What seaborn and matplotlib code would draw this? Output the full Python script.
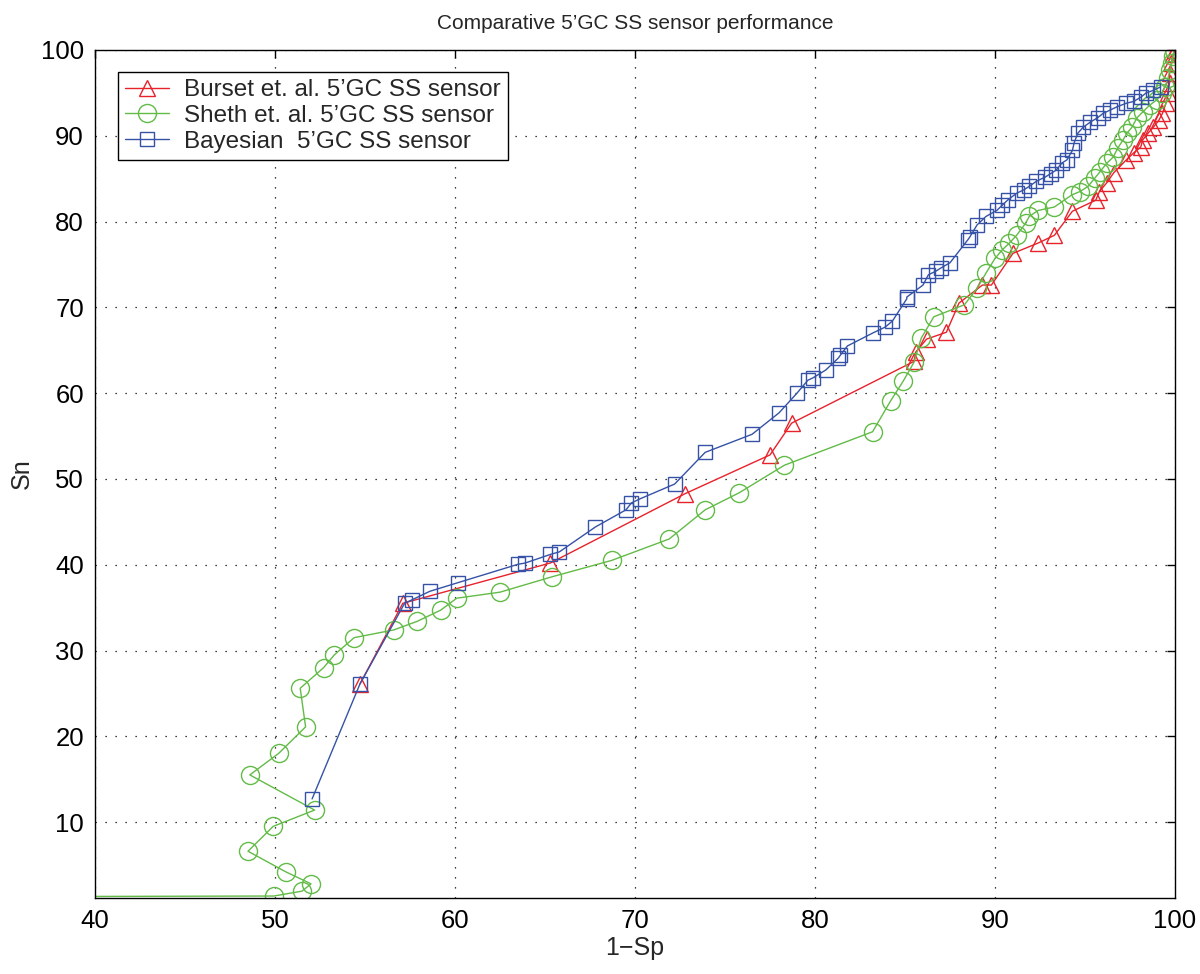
import numpy as np
import pandas as pd
import seaborn as sns
import matplotlib
matplotlib.use("Agg")
import matplotlib.pyplot as plt

# values (1-Sp, Sn)
burset_x = [54.72, 57.1, 65.3, 72.8, 77.5, 78.7, 85.5, 85.6, 86.2, 87.3, 88.0, 89.3, 89.8,
            91.0, 92.4, 93.3, 94.3, 95.6, 95.8, 96.2, 96.6, 97.3, 97.7, 98.1, 98.2, 98.5,
            98.8, 99.1, 99.3, 99.5, 99.6, 99.7, 99.7, 99.8, 99.9, 100.0]
burset_y = [26.1, 35.5, 40.2, 48.3, 52.8, 56.5, 63.7, 64.8, 66.3, 67.1, 70.5, 72.6, 72.6,
            76.3, 77.5, 78.4, 81.2, 82.5, 83.5, 84.5, 85.7, 87.2, 88.0, 88.7, 89.5, 90.3,
            91.0, 91.8, 92.6, 93.8, 95.0, 96.2, 97.3, 98.5, 99.5, 100.0]

sheth_x = [0.0, 49.94, 51.5, 52.0, 50.6, 48.5, 49.9, 52.2, 48.6, 50.2, 51.7, 51.4, 52.7, 53.3,
           54.4, 56.6, 57.9, 59.2, 60.1, 62.5, 65.4, 68.7, 71.9, 73.9, 75.8, 78.3, 83.2,
           84.2, 84.9, 85.5, 85.9, 86.6, 88.3, 89.0, 89.5, 90.0, 90.4, 90.8, 91.2, 91.7,
           91.9, 92.4, 93.3, 94.26, 94.72, 95.17, 95.56, 95.83, 96.21, 96.56, 96.83, 97.11,
           97.33, 97.61, 97.89, 98.22, 98.61, 99.0, 99.28, 99.44, 99.61, 99.72, 99.83,
           99.89, 99.94]
sheth_y = [1.15, 1.38, 1.95, 2.8, 4.2, 6.6, 9.5, 11.4, 15.5, 18.0, 21.1, 25.6, 28.0, 29.5,
           31.5, 32.4, 33.4, 34.7, 36.1, 36.8, 38.6, 40.5, 43.0, 46.4, 48.4, 51.6, 55.5,
           59.1, 61.4, 63.6, 66.4, 68.9, 70.3, 72.2, 74.0, 75.7, 76.7, 77.5, 78.4, 79.8,
           80.6, 81.3, 81.7, 83.1, 83.5, 84.1, 85.1, 85.8, 86.8, 87.5, 88.6, 89.5,
           90.3, 91.0, 92.1, 92.8, 93.6, 94.2, 95.0, 95.7, 96.7, 97.7, 98.5,
           99.3, 100.0]

bayes_x = [52.06, 54.72, 57.2, 57.6, 58.6, 60.15, 63.5, 63.9, 65.3, 65.8, 67.8, 69.5, 69.8,
           70.3, 72.2, 73.9, 76.5, 78.0, 79.0, 79.6, 79.9, 80.6, 81.3, 81.4, 81.8, 83.2,
           83.9, 84.3, 85.1, 85.1, 86.0, 86.3, 86.7, 87.0, 87.5, 88.5, 88.6, 89.0, 89.5,
           90.1, 90.4, 90.7, 91.2, 91.6, 91.9, 92.3, 92.8, 93.1, 93.4, 93.7, 94.0, 94.3,
           94.4, 94.6, 94.9, 95.3, 95.7, 96.0, 96.4, 96.8, 97.3, 97.7, 98.1, 98.4, 98.8,
           99.2]
bayes_y = [12.7, 26.1, 35.5, 35.9, 36.9, 37.9, 40.05, 40.2, 41.2, 41.5, 44.4, 46.4, 47.2,
           47.7, 49.4, 53.1, 55.2, 57.7, 60.0, 61.5, 61.8, 62.7, 64.1, 64.4, 65.5, 67.0,
           67.7, 68.4, 71.0, 71.2, 72.6, 73.8, 74.2, 74.6, 75.2, 77.9, 78.2, 79.6, 80.6,
           81.3, 81.9, 82.5, 83.3, 83.7, 84.1, 84.7, 85.2, 85.6, 86.0, 86.8, 87.2, 88.3,
           89.2, 90.3, 91.0, 91.6, 92.1, 92.6, 93.0, 93.4, 93.8, 94.0, 94.5, 95.0, 95.3,
           95.7]

labels = ["Burset et. al. 5\u2019GC SS sensor",
          "Sheth et. al. 5\u2019GC SS sensor",
          "Bayesian  5\u2019GC SS sensor"]
colors = ["#e8222b", "#62bb47", "#3552a6"]
markers = ["^", "o", "s"]
msizes = [11, 13, 9.5]

sns.set_theme(style="white")
plt.rcParams["font.family"] = ["Liberation Sans", "DejaVu Sans"]

fig = plt.figure(figsize=(12, 9.74), dpi=100)
ax = fig.add_axes([95 / 1200, 1 - 898 / 974, 1080 / 1200, 848 / 974])

series = [(burset_x, burset_y), (sheth_x, sheth_y), (bayes_x, bayes_y)]
for (xs, ys), lab, c, m, ms in zip(series, labels, colors, markers, msizes):
    df = pd.DataFrame({"x": xs, "y": ys})
    sns.lineplot(data=df, x="x", y="y", sort=False, estimator=None, ax=ax,
                 color=c, marker=m, markersize=ms, markerfacecolor="none",
                 markeredgecolor=c, markeredgewidth=1.0, linewidth=1.0, label=lab)

ax.set_xlim(40, 100)
ax.set_ylim(1.15, 100)
ax.set_xticks(np.arange(40, 101, 10))
ax.set_yticks(np.arange(10, 101, 10))
ax.grid(True, color="black", linestyle=(0, (1, 7)), linewidth=0.9)
ax.tick_params(direction="in", length=6, width=1, top=True, right=True,
               labelsize=18.5, colors="black", pad=8)
for s in ax.spines.values():
    s.set_color("black")
    s.set_linewidth(1)

ax.set_xlabel("1\u2212Sp", fontsize=18, labelpad=2)
ax.set_ylabel("Sn", fontsize=18)
ax.yaxis.set_label_coords(-0.057, 0.5)
ax.set_title("Comparative 5\u2019GC SS sensor performance", fontsize=15, pad=15)

h, l = ax.get_legend_handles_labels()
leg = ax.legend(h, l, loc="upper left", bbox_to_anchor=(23 / 1080, 1 - 22 / 848),
                borderaxespad=0, fancybox=False, framealpha=1, edgecolor="black",
                fontsize=17.5, handlelength=1.8, labelspacing=0.15, borderpad=0.3,
                handletextpad=0.6)
leg.get_frame().set_linewidth(1)

fig.savefig("out.png", dpi=100)
